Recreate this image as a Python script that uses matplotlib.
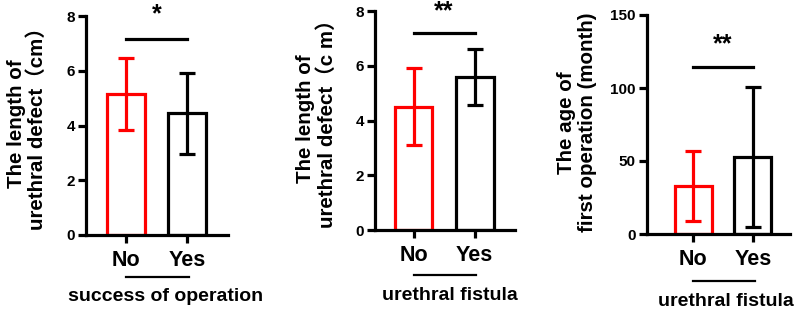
import matplotlib
matplotlib.use('Agg')
import matplotlib.pyplot as plt
import matplotlib.transforms as mtransforms

plt.rcParams['font.family'] = ['Liberation Sans', 'Noto Sans CJK SC', 'DejaVu Sans']
plt.rcParams['font.weight'] = 'bold'

groups = ['No', 'Yes']
bar_colors = ['#ff0000', '#000000']

# panel 1: defect length vs success of operation
success_mean = [5.15, 4.45]
success_sd = [1.33, 1.48]
# panel 2: defect length vs urethral fistula
fistula_len_mean = [4.5, 5.6]
fistula_len_sd = [1.4, 1.02]
# panel 3: age at first operation vs urethral fistula
fistula_age_mean = [33, 53]
fistula_age_sd = [23.8, 48]

panels = [
    dict(mean=success_mean, sd=success_sd, ylim=8, yticks=[0, 2, 4, 6, 8],
         ylabel='The length of\nurethral defect（cm）', xlabel='success of operation',
         sig='*', sig_y=7.16, star_y=8.05,
         rect=(86, 16, 142, 219), xlim=(-0.656, 1.672),
         ylab_x=-0.415, line_y=-0.192, xlab=(0.56, -0.283)),
    dict(mean=fistula_len_mean, sd=fistula_len_sd, ylim=8, yticks=[0, 2, 4, 6, 8],
         ylabel='The length of\nurethral defect（c m）', xlabel='urethral fistula',
         sig='**', sig_y=7.18, star_y=7.98,
         rect=(375, 11, 140, 219), xlim=(-0.63, 1.66),
         ylab_x=-0.42, line_y=-0.205, xlab=(0.536, -0.297)),
    dict(mean=fistula_age_mean, sd=fistula_age_sd, ylim=150, yticks=[0, 50, 100, 150],
         ylabel='The age of\nfirst operation (month)', xlabel='urethral fistula',
         sig='**', sig_y=114.6, star_y=130,
         rect=(647, 15, 143, 219), xlim=(-0.77, 1.62),
         ylab_x=-0.49, line_y=-0.215, xlab=(0.552, -0.31)),
]

W, H = 797, 314
fig = plt.figure(figsize=(W / 100, H / 100), dpi=100)

lw = 2.3
for p in panels:
    l, t, w, h = p['rect']
    ax = fig.add_axes([l / W, (H - t - h) / H, w / W, h / H])
    x = list(range(len(groups)))
    ax.bar(x, p['mean'], width=0.62, color='white', edgecolor=bar_colors, linewidth=lw, zorder=2)
    for i in x:
        ax.errorbar(i, p['mean'][i], yerr=p['sd'][i], color=bar_colors[i], elinewidth=lw,
                    capsize=5.5, capthick=lw, zorder=3)
    ax.set_xlim(*p['xlim'])
    ax.set_ylim(0, p['ylim'])
    ax.set_yticks(p['yticks'])
    ax.set_xticks(x)
    ax.set_xticklabels(groups, fontsize=15.5, fontweight='bold')
    ax.tick_params(axis='y', labelsize=11, width=lw, length=6, pad=2)
    ax.tick_params(axis='x', width=lw, length=6, pad=5)
    for s in ['top', 'right']:
        ax.spines[s].set_visible(False)
    for s in ['left', 'bottom']:
        ax.spines[s].set_linewidth(lw)
    for lab in ax.get_yticklabels():
        lab.set_fontweight('bold')

    # significance bar
    ax.plot([0, 1], [p['sig_y'], p['sig_y']], color='black', lw=lw, clip_on=False)
    ax.text(0.5, p['star_y'], p['sig'], ha='center', va='center', fontsize=18, fontweight='bold')

    # group line and label under the axis
    tr = mtransforms.blended_transform_factory(ax.transData, ax.transAxes)
    ax.plot([0, 1.03], [p['line_y'], p['line_y']], color='black', lw=1.6, transform=tr, clip_on=False)
    ax.text(p['xlab'][0], p['xlab'][1], p['xlabel'], transform=ax.transAxes,
            ha='center', va='center', fontsize=14, fontweight='bold')

    ax.text(p['ylab_x'], 0.51, p['ylabel'], transform=ax.transAxes, rotation=90,
            ha='center', va='center', multialignment='center', fontsize=14.8,
            fontweight='bold', linespacing=1.12)

fig.savefig('out.png', dpi=100)
